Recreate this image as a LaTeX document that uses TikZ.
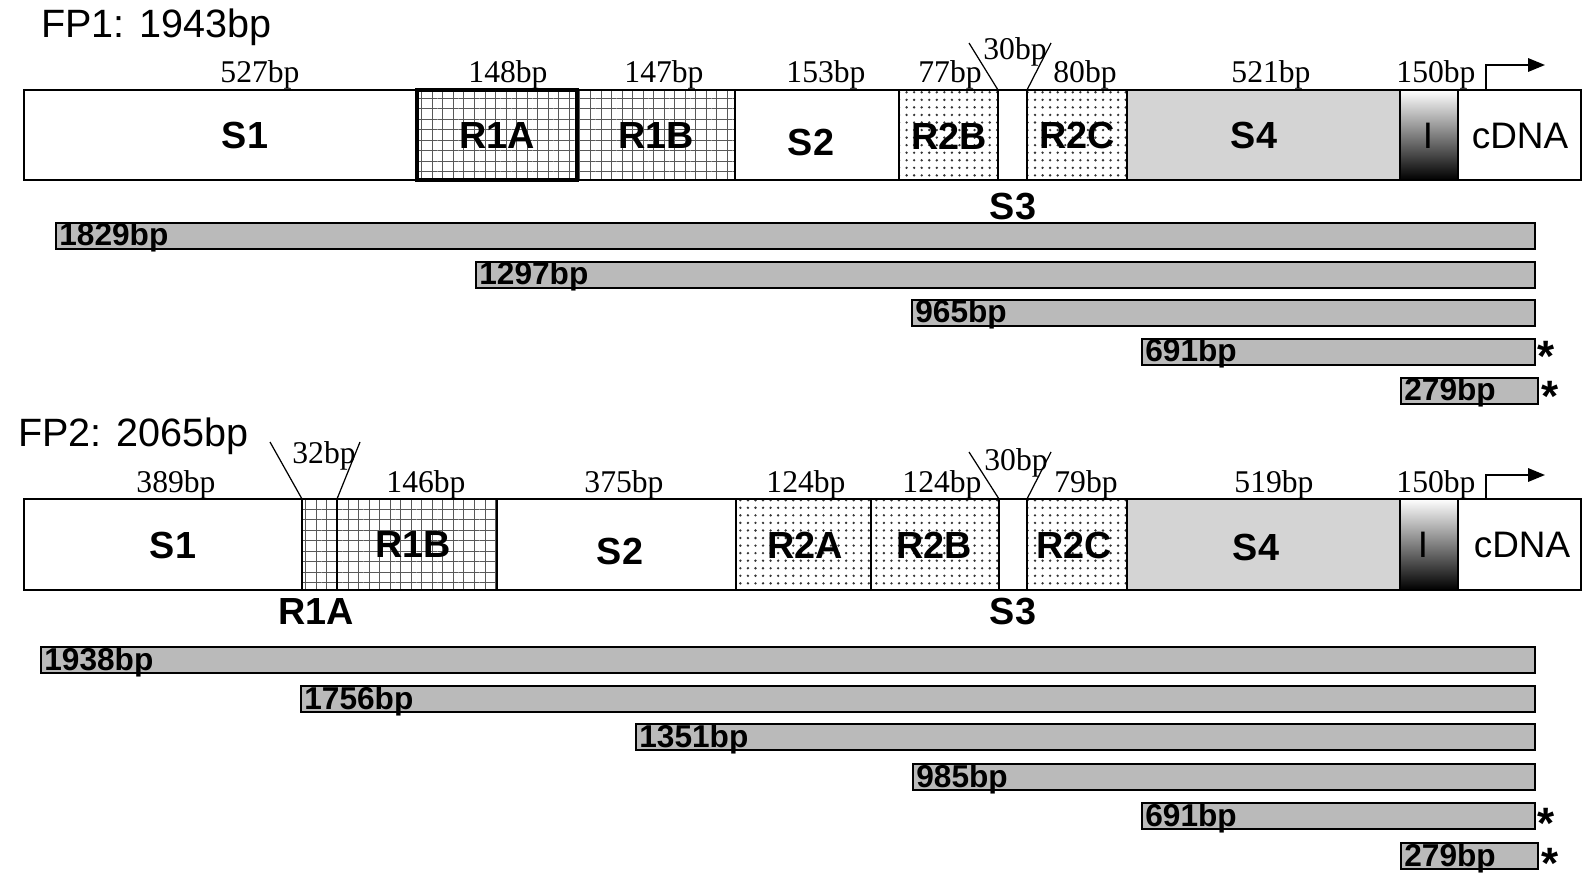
\documentclass[tikz,border=0pt]{standalone}
\usepackage{fontspec}
\setmainfont{Liberation Sans}
\newfontfamily\timesfam{Liberation Serif}
\usetikzlibrary{arrows.meta,patterns.meta}

\newcommand{\fptitlefont}{\fontsize{22.5}{26}\selectfont}
\newcommand{\fpsegfont}{\fontsize{21.5}{24}\selectfont\bfseries}
\newcommand{\fpcdnafont}{\fontsize{21}{24}\selectfont}
\newcommand{\fpbpfont}{\fontsize{18}{20}\selectfont\timesfam}
\newcommand{\fpfragfont}{\fontsize{18}{20}\selectfont\bfseries}
\newcommand{\fpstar}{\fontsize{25}{28}\selectfont\bfseries\raisebox{-0.44em}[0.28em][0pt]{*}}

\begin{document}
\begin{tikzpicture}[
        x=0.02cm, y=-0.02cm,
        seg/.style={draw=black,line width=0.9pt},
        plainseg/.style={seg,fill=white},
        gridseg/.style={seg,pattern={Hatch[angle=0,distance=6pt,line width=0.4pt]},pattern color=black!65},
        dotseg/.style={seg,pattern={Dots[distance=4.3pt,radius=0.75pt]},pattern color=black!80},
        grayseg/.style={seg,fill=black!17},
        intron/.style={seg,top color=white,middle color=black!40,bottom color=black},
        frag/.style={draw=black,line width=0.9pt,fill=black!27},
        seglabel/.style={font=\fpsegfont,inner sep=0pt},
        bplabel/.style={font=\fpbpfont,anchor=base,inner sep=0pt},
        fraglabel/.style={font=\fpfragfont,anchor=base west,inner sep=0pt},
        star/.style={anchor=south west,inner sep=0pt},
        slash/.style={line width=0.7pt},
        tss/.style={line width=1pt,-{Triangle[length=3.4mm,width=2.7mm]}}
    ]
        \path[use as bounding box,fill=white] (0,0) rectangle (1583,878);

        % ---- FP1 ----
        \node[font=\fptitlefont,anchor=base west,inner sep=0pt] (fpA) at (41,38) {FP1: 1943bp};

        \draw[plainseg] (24,90) rectangle (417,180);
        \draw[gridseg] (417,90) rectangle (577,180);
        \draw[gridseg] (577,90) rectangle (735,180);
        \draw[plainseg] (735,90) rectangle (899,180);
        \draw[dotseg] (899,90) rectangle (998,180);
        \draw[plainseg] (998,90) rectangle (1027,180);
        \draw[dotseg] (1027,90) rectangle (1127,180);
        \draw[grayseg] (1127,90) rectangle (1400,180);
        \draw[intron] (1400,90) rectangle (1458,180);
        \draw[plainseg] (1458,90) rectangle (1581,180);
        \draw[line width=1.8pt] (417,90) rectangle (577,180);

        \node[seglabel] (aS1) at (245,136) {S1};
        \node[seglabel] (aR1A) at (497,136) {R1A};
        \node[seglabel] (aR1B) at (656,136) {R1B};
        \node[seglabel] (aS2) at (811,142) {S2};
        \node[seglabel] (aR2B) at (949,136) {R2B};
        \node[seglabel] (aR2C) at (1077,136) {R2C};
        \node[seglabel] (aS4) at (1254,136) {S4};
        \node[font=\fpcdnafont,inner sep=0pt] (aI) at (1428,136) {I};
        \node[font=\fpcdnafont,inner sep=0pt] (acDNA) at (1520,136) {cDNA};
        \node[seglabel] (aS3) at (1013,207) {S3};

        \node[bplabel] (aL1) at (260,83) {527bp};
        \node[bplabel] (aL2) at (508,83) {148bp};
        \node[bplabel] (aL3) at (664,83) {147bp};
        \node[bplabel] (aL4) at (826,83) {153bp};
        \node[bplabel] (aL5) at (950,83) {77bp};
        \node[bplabel] (aL6) at (1015,60) {30bp};
        \node[bplabel] (aL7) at (1085,83) {80bp};
        \node[bplabel] (aL8) at (1271,83) {521bp};
        \node[bplabel] (aL9) at (1436,83) {150bp};

        \coordinate (aGapL) at (998,90);
        \coordinate (aGapR) at (1027,90);
        \coordinate (aTopL) at (969,43);
        \coordinate (aTopR) at (1051,43);
        \draw[slash] (aGapL) -- (aTopL);
        \draw[slash] (aGapR) -- (aTopR);

        \coordinate (aTSS) at (1486,90);
        \coordinate (aDir) at (1545,65);
        \draw[tss] (aTSS) |- (aDir);

        \draw[frag] (56,223) rectangle (1535,249);
        \node[fraglabel] (aF1) at (59,246) {1829bp};
        \draw[frag] (476,262) rectangle (1535,288);
        \node[fraglabel] (aF2) at (479,285) {1297bp};
        \draw[frag] (912,300) rectangle (1535,326);
        \node[fraglabel] (aF3) at (915,323) {965bp};
        \draw[frag] (1142,339) rectangle (1535,365);
        \node[fraglabel] (aF4) at (1145,362) {691bp};
        \node[star] (aStar4) at (1537,353) {\fpstar};
        \draw[frag] (1401,378) rectangle (1538,404);
        \node[fraglabel] (aF5) at (1404,401) {279bp};
        \node[star] (aStar5) at (1541,393) {\fpstar};

        % ---- FP2 ----
        \node[font=\fptitlefont,anchor=base west,inner sep=0pt] (fpB) at (18,447) {FP2: 2065bp};

        \draw[plainseg] (24,499) rectangle (302,590);
        \draw[gridseg] (302,499) rectangle (337,590);
        \draw[gridseg] (337,499) rectangle (497,590);
        \draw[plainseg] (497,499) rectangle (736,590);
        \draw[dotseg] (736,499) rectangle (871,590);
        \draw[dotseg] (871,499) rectangle (999,590);
        \draw[plainseg] (999,499) rectangle (1027,590);
        \draw[dotseg] (1027,499) rectangle (1127,590);
        \draw[grayseg] (1127,499) rectangle (1400,590);
        \draw[intron] (1400,499) rectangle (1458,590);
        \draw[plainseg] (1458,499) rectangle (1581,590);
        \draw[line width=1.4pt] (337,499) -- (337,590);

        \node[seglabel] (bS1) at (173,545) {S1};
        \node[seglabel] (bR1B) at (413,545) {R1B};
        \node[seglabel] (bS2) at (620,551) {S2};
        \node[seglabel] (bR2A) at (805,545) {R2A};
        \node[seglabel] (bR2B) at (934,545) {R2B};
        \node[seglabel] (bR2C) at (1074,545) {R2C};
        \node[seglabel] (bS4) at (1256,547) {S4};
        \node[font=\fpcdnafont,inner sep=0pt] (bI) at (1423,545) {I};
        \node[font=\fpcdnafont,inner sep=0pt] (bcDNA) at (1522,545) {cDNA};
        \node[seglabel] (bR1A) at (316,612) {R1A};
        \node[seglabel] (bS3) at (1013,612) {S3};

        \node[bplabel] (bL1) at (176,493) {389bp};
        \node[bplabel] (bL2) at (324,464) {32bp};
        \node[bplabel] (bL3) at (426,493) {146bp};
        \node[bplabel] (bL4) at (624,493) {375bp};
        \node[bplabel] (bL5) at (806,493) {124bp};
        \node[bplabel] (bL6) at (942,493) {124bp};
        \node[bplabel] (bL7) at (1016,471) {30bp};
        \node[bplabel] (bL8) at (1086,493) {79bp};
        \node[bplabel] (bL9) at (1274,493) {519bp};
        \node[bplabel] (bL10) at (1436,493) {150bp};

        \coordinate (bRepL) at (302,499);
        \coordinate (bRepR) at (337,499);
        \coordinate (bRepTopL) at (270,442);
        \coordinate (bRepTopR) at (360,442);
        \draw[slash] (bRepL) -- (bRepTopL);
        \draw[slash] (bRepR) -- (bRepTopR);
        \coordinate (bGapL) at (999,499);
        \coordinate (bGapR) at (1027,499);
        \coordinate (bTopL) at (969,452);
        \coordinate (bTopR) at (1051,452);
        \draw[slash] (bGapL) -- (bTopL);
        \draw[slash] (bGapR) -- (bTopR);

        \coordinate (bTSS) at (1486,499);
        \coordinate (bDir) at (1545,475);
        \draw[tss] (bTSS) |- (bDir);

        \draw[frag] (41,647) rectangle (1535,673);
        \node[fraglabel] (bF1) at (44,670) {1938bp};
        \draw[frag] (301,686) rectangle (1535,712);
        \node[fraglabel] (bF2) at (304,709) {1756bp};
        \draw[frag] (636,724) rectangle (1535,750);
        \node[fraglabel] (bF3) at (639,747) {1351bp};
        \draw[frag] (913,764) rectangle (1535,790);
        \node[fraglabel] (bF4) at (916,787) {985bp};
        \draw[frag] (1142,803) rectangle (1535,829);
        \node[fraglabel] (bF5) at (1145,826) {691bp};
        \node[star] (bStar5) at (1537,820) {\fpstar};
        \draw[frag] (1401,843) rectangle (1538,869);
        \node[fraglabel] (bF6) at (1404,866) {279bp};
        \node[star] (bStar6) at (1541,860) {\fpstar};
    \end{tikzpicture}
\end{document}
